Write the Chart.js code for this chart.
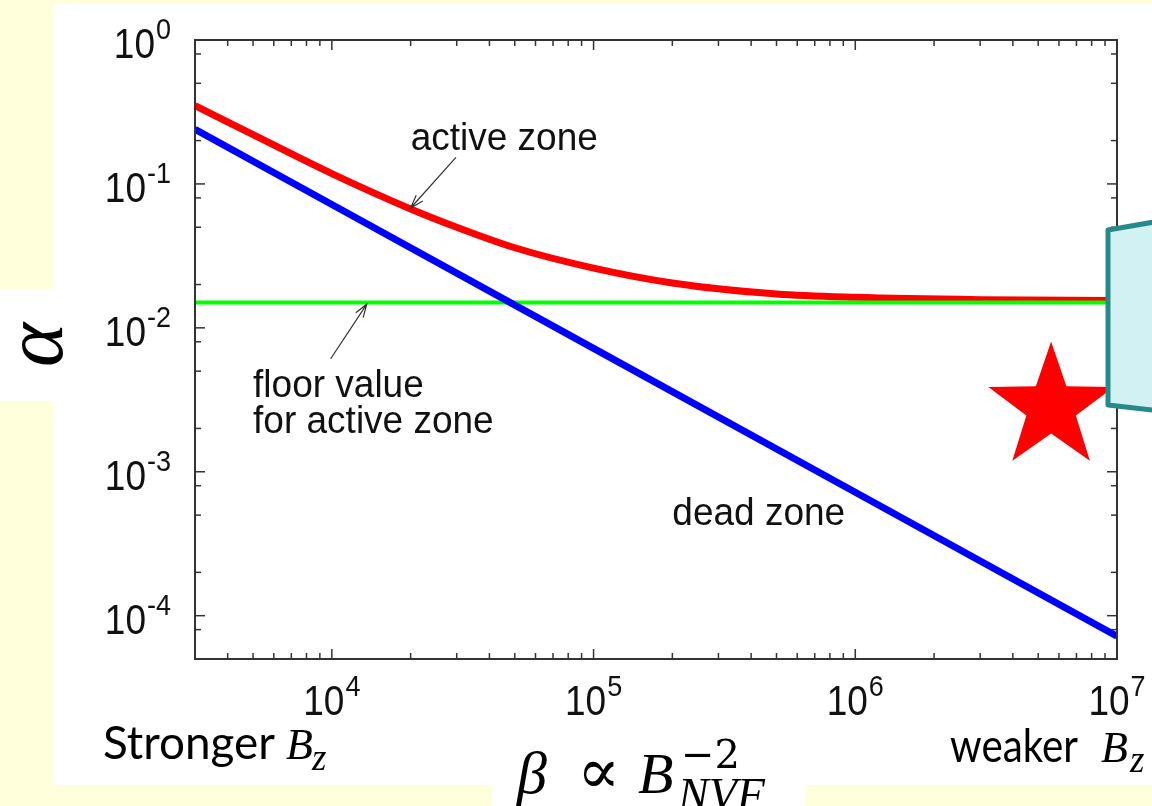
<!DOCTYPE html>
<html>
<head>
<meta charset="utf-8">
<script src="https://cdn.jsdelivr.net/npm/chart.js@4.4.1/dist/chart.umd.min.js"></script>
<style>
  html, body { margin: 0; padding: 0; background: #ffffdc; }
  #wrap { position: relative; width: 1152px; height: 806px; }
  canvas { display: block; }
</style>
</head>
<body>
<div id="wrap"><canvas id="alphaChart" width="1152" height="806"></canvas></div>
<script>
// values (beta on x, alpha on y, both log)
const activeBeta = [3000, 5000, 1e4, 2e4, 3e4, 5e4, 1e5, 2e5, 5e5, 1e6, 3e6, 1e7];
const activeAlpha = [0.35, 0.22, 0.118, 0.067, 0.05, 0.036, 0.026, 0.0205, 0.0172, 0.0163, 0.0157, 0.0155];
const deadBeta = [3000, 1e4, 1e5, 1e6, 1e7];
const deadAlpha = [0.24, 0.072, 0.0072, 0.00072, 0.000072];
const floorBeta = [3000, 1e7];
const floorAlpha = [0.015, 0.015];

const xTickExponents = [4, 5, 6, 7];
const yTickExponents = [0, -1, -2, -3, -4];
const xMinorMantissas = [2, 3, 4, 5, 6, 7, 8, 9];
const yMinorMantissas = [2, 5, 8];

// labels inside the plot, placed in data coordinates
const notes = [
    { text: 'active zone', beta: 2e4, alpha: 0.171 },
    { text: 'floor value', beta: 5000, alpha: 0.0033 },
    { text: 'for active zone', beta: 5000, alpha: 0.00185 },
    { text: 'dead zone', beta: 2.0e5, alpha: 0.000424 }
];
const arrows = [
    { from: [2.98e4, 0.153], to: [2.0e4, 0.068] },
    { from: [9900, 0.0061], to: [1.36e4, 0.0146] }
];
const starAt = [5.6e6, 0.0028];

const GNU_FONT = '"Liberation Sans", Arial, sans-serif';
const SERIF_IT = 'italic {s}px "Liberation Serif", "DejaVu Serif", serif';
const SLIDE_FONT = 'Lato, "Noto Sans", sans-serif';

function pts(xs, ys) {
    return xs.map((x, i) => ({ x: x, y: ys[i] }));
}

function stretchedText(ctx, str, x, y, font, align, sy) {
    ctx.save();
    ctx.font = font;
    ctx.textAlign = align || 'left';
    ctx.textBaseline = 'alphabetic';
    ctx.translate(x, y);
    ctx.scale(1, sy || 1);
    ctx.fillText(str, 0, 0);
    ctx.restore();
}

function drawPower(ctx, exp, x, baseY, align) {
    const mainFont = '37px ' + GNU_FONT;
    const supFont = '27px ' + GNU_FONT;
    ctx.font = mainFont;
    const w1 = ctx.measureText('10').width;
    ctx.font = supFont;
    const s = String(exp);
    const w2 = ctx.measureText(s).width;
    const total = w1 + 1 + w2;
    const left = align === 'right' ? x - total : x - total / 2;
    stretchedText(ctx, '10', left, baseY, mainFont, 'left', 1.15);
    stretchedText(ctx, s, left + w1 + 1, baseY - 19, supFont, 'left', 1.08);
}

function serif(size) {
    return SERIF_IT.replace('{s}', size);
}

function drawArrow(ctx, x0, y0, x1, y1) {
    const ang = Math.atan2(y1 - y0, x1 - x0);
    const len = 14, spread = 0.32;
    ctx.beginPath();
    ctx.moveTo(x0, y0);
    ctx.lineTo(x1, y1);
    ctx.moveTo(x1 - len * Math.cos(ang - spread), y1 - len * Math.sin(ang - spread));
    ctx.lineTo(x1, y1);
    ctx.lineTo(x1 - len * Math.cos(ang + spread), y1 - len * Math.sin(ang + spread));
    ctx.stroke();
}

function drawStar(ctx, cx, cy, R, r) {
    ctx.beginPath();
    for (let i = 0; i < 10; i++) {
        const rad = i % 2 === 0 ? R : r;
        const a = -Math.PI / 2 + i * Math.PI / 5;
        const px = cx + rad * Math.cos(a), py = cy + rad * Math.sin(a);
        if (i === 0) ctx.moveTo(px, py); else ctx.lineTo(px, py);
    }
    ctx.closePath();
    ctx.fill();
}

// white slide panels behind the chart
const panelPlugin = {
    id: 'panels',
    beforeDraw(chart) {
        const ctx = chart.ctx;
        ctx.save();
        ctx.fillStyle = '#ffffff';
        ctx.fillRect(53, 4, 1099, 781);
        ctx.fillRect(0, 289, 54, 112);
        ctx.fillRect(492, 780, 313, 26);
        ctx.restore();
    }
};

// gnuplot style frame: inward ticks on all four sides, 10^n labels
const framePlugin = {
    id: 'frame',
    afterDraw(chart) {
        const { ctx, chartArea: a, scales: { x, y } } = chart;
        ctx.save();
        ctx.strokeStyle = '#333';
        ctx.lineWidth = 1.5;
        const tick = (x0, y0, x1, y1) => {
            ctx.beginPath(); ctx.moveTo(x0, y0); ctx.lineTo(x1, y1); ctx.stroke();
        };
        for (let e = 3; e <= 7; e++) {
            [1].concat(xMinorMantissas).forEach(m => {
                const v = m * Math.pow(10, e);
                if (v < x.min * 0.999 || v > x.max * 1.001) return;
                const px = x.getPixelForValue(v);
                const len = m === 1 ? 10 : 6;
                tick(px, a.bottom, px, a.bottom - len);
                tick(px, a.top, px, a.top + len);
            });
        }
        for (let e = -5; e <= 0; e++) {
            [1].concat(yMinorMantissas).forEach(m => {
                const v = m * Math.pow(10, e);
                if (v < y.min * 0.999 || v > y.max * 1.001) return;
                const py = y.getPixelForValue(v);
                const len = m === 1 ? 10 : 6;
                tick(a.left, py, a.left + len, py);
                tick(a.right, py, a.right - len, py);
            });
        }
        ctx.lineWidth = 2;
        ctx.strokeRect(a.left, a.top, a.right - a.left, a.bottom - a.top);

        ctx.fillStyle = '#111';
        yTickExponents.forEach(e => {
            drawPower(ctx, e, 171, y.getPixelForValue(Math.pow(10, e)) + 18, 'right');
        });
        xTickExponents.forEach(e => {
            drawPower(ctx, e, x.getPixelForValue(Math.pow(10, e)), a.bottom + 56, 'center');
        });

        // annotations
        notes.forEach(n => {
            stretchedText(ctx, n.text, x.getPixelForValue(n.beta), y.getPixelForValue(n.alpha),
                '37px ' + GNU_FONT, 'left', 1.07);
        });
        ctx.strokeStyle = '#333';
        ctx.lineWidth = 1.2;
        arrows.forEach(ar => {
            drawArrow(ctx, x.getPixelForValue(ar.from[0]), y.getPixelForValue(ar.from[1]),
                x.getPixelForValue(ar.to[0]), y.getPixelForValue(ar.to[1]));
        });

        // axis captions (slide text)
        ctx.fillStyle = '#000';
        ctx.font = '46px ' + SLIDE_FONT;
        ctx.textAlign = 'left';
        ctx.fillText('Stronger', 103, 759, 172);
        ctx.fillText('weaker', 950, 762, 128);
        ctx.font = serif(44);
        ctx.fillText('B', 286, 759);
        ctx.fillText('B', 1101, 762);
        ctx.font = serif(37);
        ctx.fillText('z', 312, 770);
        ctx.fillText('z', 1130, 772);

        ctx.font = serif(60);
        ctx.fillText('β', 517, 793);
        ctx.font = '64px "DejaVu Serif", serif';
        ctx.fillText('∝', 577, 793);
        ctx.font = serif(58);
        ctx.fillText('B', 638, 793);
        ctx.font = '40px "DejaVu Serif", serif';
        ctx.fillText('−2', 681, 768);
        ctx.font = serif(46);
        ctx.fillText('NVF', 678, 810);

        ctx.save();
        ctx.translate(62, 345);
        ctx.rotate(-Math.PI / 2);
        ctx.font = serif(84);
        ctx.textAlign = 'center';
        ctx.fillText('α', 0, 0);
        ctx.restore();

        // red star and the callout box on the right
        ctx.fillStyle = '#ff0000';
        drawStar(ctx, x.getPixelForValue(starAt[0]), y.getPixelForValue(starAt[1]), 66, 26);
        ctx.beginPath();
        ctx.moveTo(1108, 230);
        ctx.lineTo(1160, 221);
        ctx.lineTo(1160, 411);
        ctx.lineTo(1108, 405);
        ctx.closePath();
        ctx.fillStyle = '#d2f1f2';
        ctx.fill();
        ctx.strokeStyle = '#268a8a';
        ctx.lineWidth = 5;
        ctx.lineJoin = 'round';
        ctx.stroke();
        ctx.restore();
    }
};

const ctx = document.getElementById('alphaChart').getContext('2d');
new Chart(ctx, {
    type: 'line',
    data: {
        datasets: [
            {
                label: 'dead zone',
                data: pts(deadBeta, deadAlpha),
                borderColor: '#0000ff',
                borderWidth: 7,
                pointRadius: 0,
                fill: false
            },
            {
                label: 'floor value for active zone',
                data: pts(floorBeta, floorAlpha),
                borderColor: '#00ff00',
                borderWidth: 4,
                pointRadius: 0,
                fill: false
            },
            {
                label: 'active zone',
                data: pts(activeBeta, activeAlpha),
                borderColor: '#ff0000',
                borderWidth: 7,
                pointRadius: 0,
                cubicInterpolationMode: 'monotone',
                fill: false
            }
        ]
    },
    options: {
        responsive: false,
        animation: false,
        devicePixelRatio: 1,
        layout: { padding: { left: 195, top: 40, right: 35, bottom: 147 } },
        plugins: { legend: { display: false }, tooltip: { enabled: false } },
        scales: {
            x: {
                type: 'logarithmic',
                min: 3000,
                max: 1e7,
                ticks: { display: false },
                grid: { display: false, drawTicks: false },
                border: { display: false }
            },
            y: {
                type: 'logarithmic',
                min: 5e-5,
                max: 1,
                ticks: { display: false },
                grid: { display: false, drawTicks: false },
                border: { display: false }
            }
        }
    },
    plugins: [panelPlugin, framePlugin]
});
</script>
</body>
</html>
